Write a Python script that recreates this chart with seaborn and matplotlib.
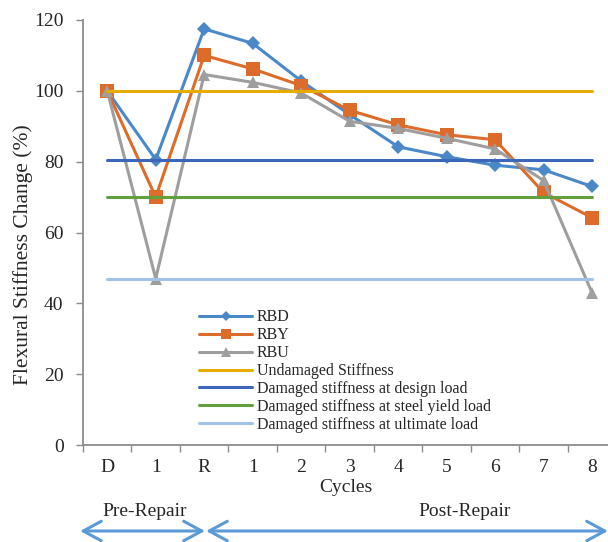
import matplotlib
matplotlib.use("Agg")
import matplotlib.pyplot as plt
import seaborn as sns
import pandas as pd
from matplotlib.ticker import FixedLocator
from matplotlib.patches import FancyArrowPatch

# ---- data ----
categories = ["D", "1", "R", "1", "2", "3", "4", "5", "6", "7", "8"]
rbd = [100, 80.6, 117.5, 113.4, 102.8, 93.3, 84.2, 81.4, 79.0, 77.7, 73.0]
rby = [100, 70.0, 110.0, 106.2, 101.5, 94.5, 90.4, 87.6, 86.2, 71.3, 64.2]
rbu = [100, 47.0, 104.6, 102.4, 99.4, 91.4, 89.4, 86.6, 83.6, 74.7, 43.0]
undamaged = 100.0
design_load = 80.6
yield_load = 70.0
ultimate_load = 46.9
y_ticks = [0, 20, 40, 60, 80, 100, 120]

series_names = ["RBD", "RBY", "RBU"]
series_vals = [rbd, rby, rbu]
series_colors = ["#4A88C8", "#DD6C2A", "#9E9E9E"]
series_markers = ["D", "s", "^"]
series_msize = [7, 10, 9]

ref_names = ["Undamaged Stiffness", "Damaged stiffness at design load",
             "Damaged stiffness at steel yield load", "Damaged stiffness at ultimate load"]
ref_vals = [undamaged, design_load, yield_load, ultimate_load]
ref_colors = ["#E6AC00", "#3B66B9", "#62A03E", "#9FC4E8"]

sns.set_style("white")
plt.rcParams['font.family'] = ['Liberation Serif', 'DejaVu Serif']

fig = plt.figure(figsize=(6.08, 5.42), dpi=100)
ax = fig.add_axes([83/608, 97/542, (608-83)/608, 425/542])

xpos = list(range(len(categories)))
for name, vals, c, m, ms in zip(series_names, series_vals, series_colors, series_markers, series_msize):
    df = pd.DataFrame({"x": xpos, "y": vals})
    sns.lineplot(data=df, x="x", y="y", ax=ax, color=c, lw=2.2, marker=m,
                 markersize=ms, markeredgewidth=0, label=name, zorder=3)

for name, v, c in zip(ref_names, ref_vals, ref_colors):
    df = pd.DataFrame({"x": xpos, "y": [v] * len(xpos)})
    sns.lineplot(data=df, x="x", y="y", ax=ax, color=c, lw=2.2, label=name, zorder=4)

ax.set_xlim(-0.5, 10.33)
ax.set_ylim(0, 120)
ax.set_yticks(y_ticks)
ax.set_yticklabels([str(t) for t in y_ticks], fontsize=14)
ax.set_xticks(xpos)
ax.set_xticklabels(categories, fontsize=14)
ax.xaxis.set_minor_locator(FixedLocator([i - 0.5 for i in range(len(categories))]))
ax.tick_params(axis="x", which="major", length=0, pad=10)
ax.tick_params(axis="x", which="minor", length=5, width=1, color="#8C8C8C", direction="out", bottom=True)
ax.tick_params(axis="y", which="major", length=5, width=1, color="#8C8C8C", direction="out", left=True, pad=9)

for s in ["top", "right"]:
    ax.spines[s].set_visible(False)
for s in ["left", "bottom"]:
    ax.spines[s].set_color("#8C8C8C")
    ax.spines[s].set_linewidth(1.3)
ax.spines["bottom"].set_clip_on(False)

ax.set_xlabel("Cycles", fontsize=14, labelpad=2)
ax.set_ylabel("Flexural Stiffness Change (%)", fontsize=15.5)
ax.yaxis.set_label_coords(-(83 - 33) / 525, (445 - 255) / 425)

leg = ax.legend(loc="upper left", bbox_to_anchor=(110/525, 1 - 283/425), frameon=False,
                fontsize=11.5, labelspacing=0.12, handlelength=3.3, handletextpad=0.3,
                borderaxespad=0, markerscale=0.75)

# Pre/Post repair annotations
fig.text(145/608, 1 - 512/542, "Pre-Repair", fontsize=14, ha="center", va="center")
fig.text(465/608, 1 - 512/542, "Post-Repair", fontsize=14, ha="center", va="center")
arrow_y = 1 - 531/542
arrow_style = "<->,head_length=1.3,head_width=0.7"
for x0, x1 in [(80/608, 205/608), (206/608, 608/608)]:
    fig.add_artist(FancyArrowPatch((x0, arrow_y), (x1, arrow_y), transform=fig.transFigure,
                                   arrowstyle=arrow_style, mutation_scale=10,
                                   color="#5B9BD5", lw=2.2, shrinkA=0, shrinkB=0))

fig.savefig("out.png", dpi=100)
